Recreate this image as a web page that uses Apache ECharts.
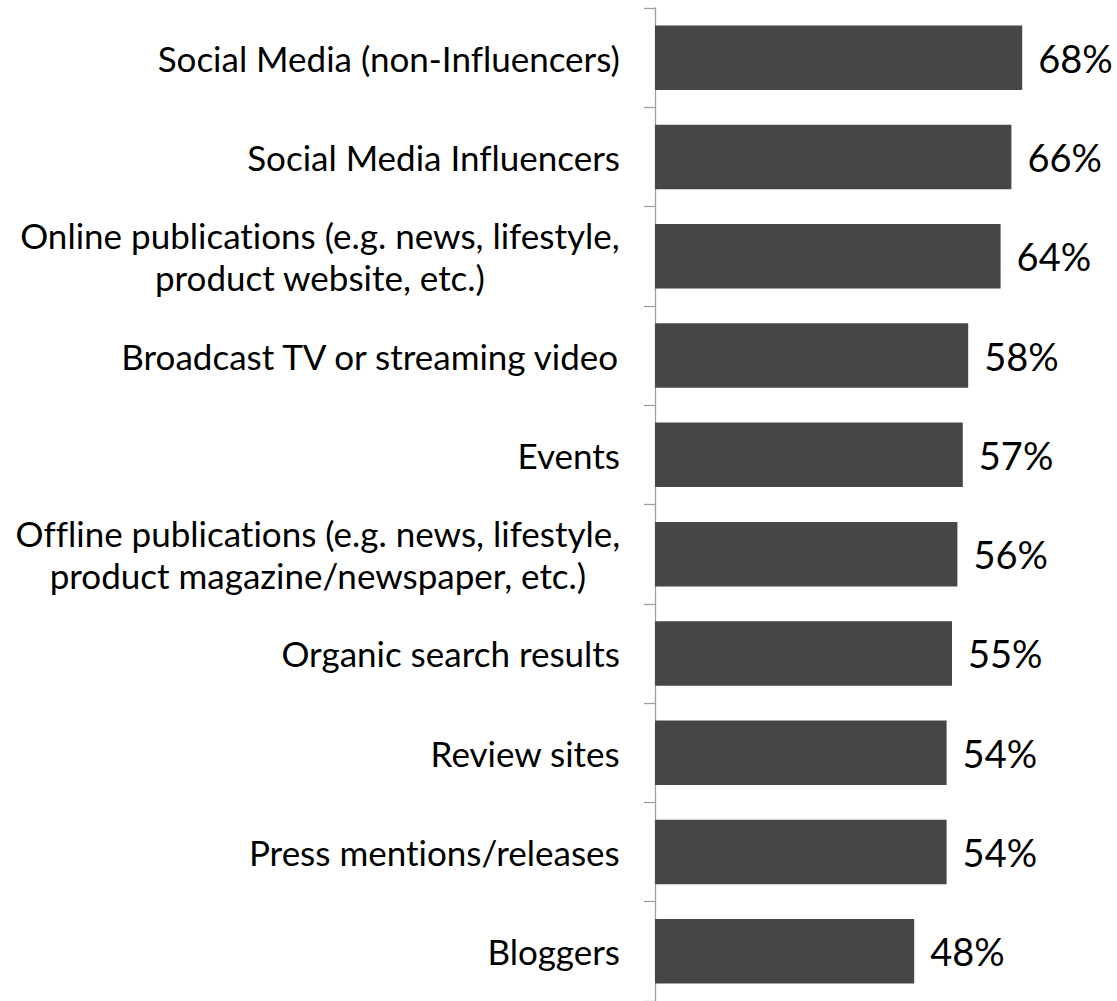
<!DOCTYPE html>
<html>
<head>
<meta charset="utf-8">
<script src="https://cdn.jsdelivr.net/npm/echarts@6/dist/echarts.min.js"></script>
<style>
  html, body { margin: 0; padding: 0; background: #ffffff; }
  #chart { width: 1117px; height: 1001px; }
  /* plain letter pairs, no "ti"/"fl" ligatures */
  #chart text {
    font-variant-ligatures: none !important;
    font-feature-settings: "liga" 0, "clig" 0 !important;
  }
</style>
</head>
<body>
<div id="chart"></div>
<script>
// Channels, top to bottom
const categories = [
  'Social Media (non-Influencers)',
  'Social Media Influencers',
  'Online publications (e.g. news, lifestyle,\nproduct website, etc.)',
  'Broadcast TV or streaming video',
  'Events',
  'Offline publications (e.g. news, lifestyle,\nproduct magazine/newspaper, etc.)',
  'Organic search results',
  'Review sites',
  'Press mentions/releases',
  'Bloggers'
];

// Share of respondents, percent
const values = [68, 66, 64, 58, 57, 56, 55, 54, 54, 48];

const chart = echarts.init(document.getElementById('chart'), null, { renderer: 'svg' });

chart.setOption({
  animation: false,
  backgroundColor: '#ffffff',
  grid: { left: 655, right: 30, top: 8, bottom: 0, containLabel: false },
  xAxis: {
    type: 'value',
    min: 0,
    max: 80,
    show: false
  },
  yAxis: {
    type: 'category',
    inverse: true,
    data: categories,
    axisLine: { show: true, lineStyle: { color: '#a0a0a0', width: 1.3 } },
    axisTick: { show: true, length: 11, lineStyle: { color: '#a0a0a0', width: 1.3 } },
    splitLine: { show: false },
    axisLabel: {
      margin: 35,
      color: '#000000',
      fontFamily: 'Lato',
      fontSize: 35,
      lineHeight: 42,
      formatter: function (v) {
        return v.split('\n').map(function (line) { return '{c|' + line + '}'; }).join('\n');
      },
      rich: {
        c: {
          align: 'center',
          color: '#000000',
          fontFamily: 'Lato',
          fontSize: 35,
          lineHeight: 42
        }
      }
    }
  },
  series: [{
    type: 'bar',
    data: values,
    barCategoryGap: '35%',
    itemStyle: { color: '#464646' },
    label: {
      show: true,
      position: 'right',
      distance: 16,
      color: '#000000',
      fontFamily: 'Lato',
      fontSize: 38,
      formatter: '{c}%'
    }
  }]
});
</script>
</body>
</html>
